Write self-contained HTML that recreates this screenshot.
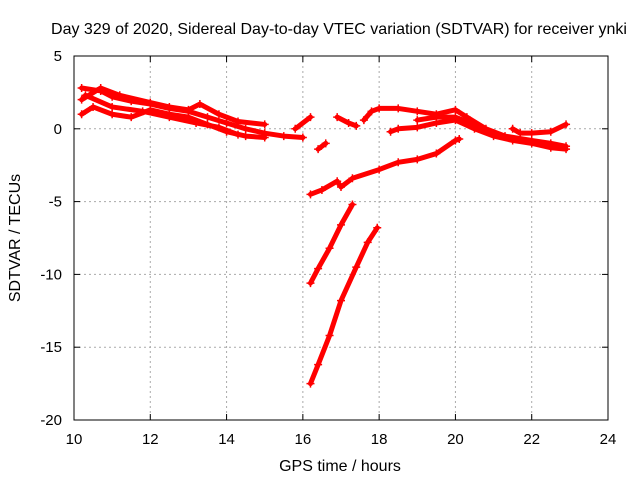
<!DOCTYPE html>
<html><head><meta charset="utf-8"><style>
body{margin:0;background:#fff;}
svg{display:block;font-family:"Liberation Sans",sans-serif;}
</style></head><body>
<svg id="chart" width="640" height="480">
<rect width="640" height="480" fill="#fff"/>
<text x="339" y="34" font-size="16" text-anchor="middle">Day 329 of 2020, Sidereal Day-to-day VTEC variation (SDTVAR) for receiver ynki</text>
<text x="340" y="471" font-size="16" text-anchor="middle">GPS time / hours</text>
<text transform="translate(20,238) rotate(-90)" font-size="16" text-anchor="middle">SDTVAR / TECUs</text>
<g id="grid"></g><g id="series"></g>
<rect x="74" y="56" width="534" height="364" fill="none" stroke="#000"/>
</svg>
<script>
const xTicks=[10,12,14,16,18,20,22,24];
const yTicks=[5,0,-5,-10,-15,-20];
const trackA1=[[10.2,2.8],[10.7,2.6],[11,2.2],[11.5,1.9],[12,1.7],[12.5,1.4],[13,1.2],[13.5,0.8],[14,0.4],[14.5,0.0],[15,-0.3],[15.5,-0.5],[16,-0.6]];
const trackA2=[[10.2,1.0],[10.5,1.5],[11,1.0],[11.5,0.8],[12,1.3],[12.5,1.0],[13,0.8],[13.5,0.3],[14,-0.2],[14.5,-0.5],[15,-0.6]];
const trackA3=[[10.2,2.0],[10.7,2.8],[11.2,2.3],[12,1.8],[12.5,1.5],[13,1.3],[13.3,1.7],[13.8,1.0],[14.3,0.5],[15,0.3]];
const trackA4=[[10.3,2.3],[11,1.5],[11.8,1.2],[12.5,0.8],[13.2,0.4],[13.8,0.1],[14.3,-0.4]];
const trackA5=[[15.8,0.0],[16.2,0.8]];
const trackA6=[[16.4,-1.4],[16.6,-1.0]];
const trackE1=[[16.9,0.8],[17.2,0.4],[17.4,0.2]];
const trackE2=[[17.6,0.6],[17.8,1.2],[18,1.4],[18.5,1.4],[19,1.2],[19.5,1.0],[20,1.3],[20.3,0.8],[20.8,0.0],[21.3,-0.5],[22,-0.8],[22.5,-1.0],[22.9,-1.2]];
const trackE3=[[18.3,-0.2],[18.5,0.0],[19,0.1],[19.5,0.4],[20,0.6],[20.5,0.0],[21,-0.5],[21.5,-0.8],[22,-1.0],[22.5,-1.3],[22.9,-1.4]];
const trackE4=[[19,0.6],[19.5,0.8],[20,0.8],[20.5,0.3],[21,-0.3],[21.5,-0.7],[22,-0.9]];
const trackE5=[[21.5,0.0],[21.7,-0.3],[22,-0.3],[22.5,-0.2],[22.9,0.3]];
const trackB=[[16.2,-4.5],[16.5,-4.2],[16.9,-3.6],[17,-4.0],[17.3,-3.4],[18,-2.8],[18.5,-2.3],[19,-2.1],[19.5,-1.7],[20,-0.8],[20.1,-0.7]];
const trackC=[[16.2,-10.6],[16.4,-9.6],[16.7,-8.2],[17,-6.6],[17.3,-5.2]];
const trackD=[[16.2,-17.5],[16.4,-16.2],[16.7,-14.2],[17,-11.8],[17.4,-9.5],[17.7,-7.8],[17.95,-6.8]];
const tracks=[trackA1,trackA2,trackA3,trackA4,trackA5,trackA6,trackE1,trackE2,trackE3,trackE4,trackE5,trackB,trackC,trackD];
const NS="http://www.w3.org/2000/svg";
const X=v=>74+(v-10)*534/14;
const Y=v=>56+(5-v)*364/25;
const grid=document.getElementById('grid'),ser=document.getElementById('series');
function mk(tag,a,p){const e=document.createElementNS(NS,tag);for(const k in a)e.setAttribute(k,a[k]);p.appendChild(e);return e;}
xTicks.forEach(t=>{
  if(t>10&&t<24){const l=mk('line',{x1:X(t),x2:X(t),y1:56,y2:420,stroke:'#aaa','stroke-dasharray':'2,3'},grid);
  
  }
  mk('line',{x1:X(t),x2:X(t),y1:420,y2:414,stroke:'#000'},grid);
  mk('line',{x1:X(t),x2:X(t),y1:56,y2:62,stroke:'#000'},grid);
  const tx=mk('text',{x:X(t),y:444,'font-size':15,'text-anchor':'middle'},grid);tx.textContent=t;
  
  
});
yTicks.forEach(t=>{
  if(t<5&&t>-20){const l=mk('line',{x1:74,x2:608,y1:Y(t),y2:Y(t),stroke:'#aaa','stroke-dasharray':'2,3'},grid);
  
  }
  mk('line',{x1:74,x2:80,y1:Y(t),y2:Y(t),stroke:'#000'},grid);
  mk('line',{x1:602,x2:608,y1:Y(t),y2:Y(t),stroke:'#000'},grid);
  const tx=mk('text',{x:62,y:Y(t)+5,'font-size':15,'text-anchor':'end'},grid);tx.textContent=t;
  
  
});
tracks.forEach(tr=>{
  const pl=mk('polyline',{points:tr.map(p=>X(p[0])+','+Y(p[1])).join(' '),fill:'none',stroke:'#f00','stroke-width':5,'stroke-linejoin':'round','stroke-linecap':'round'},ser);
  
  
  tr.forEach(p=>{
    const m=mk('path',{d:`M${X(p[0])-4},${Y(p[1])}h8M${X(p[0])},${Y(p[1])-4}v8`,stroke:'#f00','stroke-width':1.5},ser);
    
    
  });
});
</script>
</body></html>
